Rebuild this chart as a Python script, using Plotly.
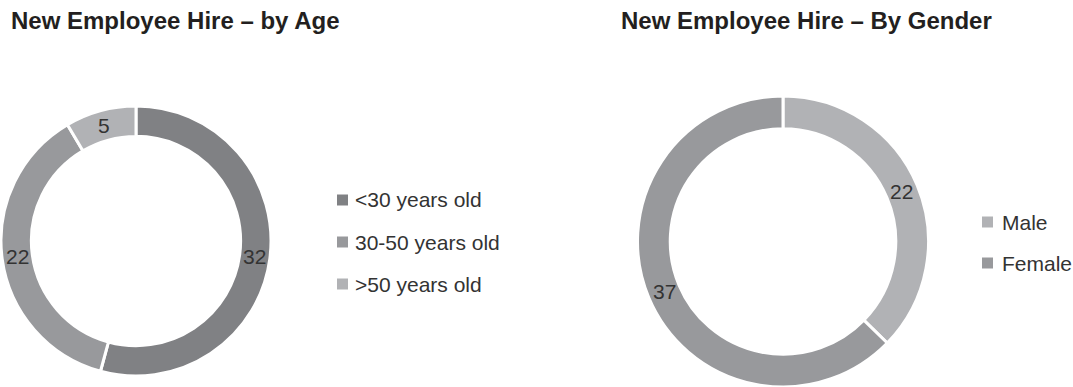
import math
import plotly.graph_objects as go

age_labels = ["<30 years old", "30-50 years old", ">50 years old"]
age_values = [32, 22, 5]
age_colors = ["#808184", "#98999c", "#b1b2b5"]

gender_labels = ["Male", "Female"]
gender_values = [22, 37]
gender_colors = ["#b1b2b5", "#98999c"]

titles = ["New Employee Hire – by Age", "New Employee Hire – By Gender"]

W, H = 1073, 387
FONT = "Helvetica Neue, Liberation Sans, Arial, sans-serif"
HOLE = 0.775

def px(x):
    return x / W

def py(y):
    return min(1.0, max(0.0, 1 - y / H))

fig = go.Figure()
annotations = []
shapes = []

def add_donut(labels, values, colors, x0, x1, y0, y1):
    fig.add_trace(go.Pie(
        labels=labels, values=values, hole=HOLE, sort=False,
        direction="clockwise", rotation=0,
        marker=dict(colors=colors, line=dict(color="white", width=3)),
        textinfo="none",
        domain=dict(x=[px(x0), px(x1)], y=[py(y1), py(y0)]),
        showlegend=False, hoverinfo="label+value",
    ))
    # value labels placed at each slice's mid-angle, mid-ring (derived from the data)
    cx, cy = (x0 + x1) / 2, (y0 + y1) / 2
    R = min(x1 - x0, y1 - y0) / 2
    rm = R * (1 + HOLE) / 2
    total = sum(values)
    cum = 0
    for v in values:
        mid = (cum + v / 2) / total * 2 * math.pi
        cum += v
        tx = cx + rm * math.sin(mid)
        ty = cy - rm * math.cos(mid)
        annotations.append(dict(text=str(v), x=px(tx), y=py(ty), xref="paper", yref="paper",
                                xanchor="center", yanchor="middle", showarrow=False,
                                font=dict(size=21, color="#333333", family=FONT)))

add_donut(age_labels, age_values, age_colors, 1, 271, 106, 376)
add_donut(gender_labels, gender_values, gender_colors, 637, 929, 96, 387)

for t, x in zip(titles, [9, 619]):
    annotations.append(dict(text="<b>" + t + "</b>", x=px(x), y=py(20), xref="paper", yref="paper",
                            xanchor="left", yanchor="middle", showarrow=False,
                            font=dict(size=24, color="#231f20", family=FONT)))

def add_legend(labels, colors, sq_x, text_x, y0, dy):
    for i, (lab, col) in enumerate(zip(labels, colors)):
        yc = y0 + i * dy
        shapes.append(dict(type="rect", xref="paper", yref="paper",
                           x0=px(sq_x), x1=px(sq_x + 11), y0=py(yc + 5.5), y1=py(yc - 5.5),
                           fillcolor=col, line=dict(width=0)))
        annotations.append(dict(text=lab, x=px(text_x), y=py(yc), xref="paper", yref="paper",
                                xanchor="left", yanchor="middle", showarrow=False,
                                font=dict(size=21, color="#333333", family=FONT)))

add_legend(age_labels, age_colors, 337, 353, 200, 42)
add_legend(gender_labels, gender_colors, 982, 1000, 222, 41)

fig.update_layout(
    width=W, height=H, margin=dict(l=0, r=0, t=0, b=0),
    paper_bgcolor="white", plot_bgcolor="white",
    annotations=annotations, shapes=shapes, showlegend=False,
)

fig.write_html("out.html")
